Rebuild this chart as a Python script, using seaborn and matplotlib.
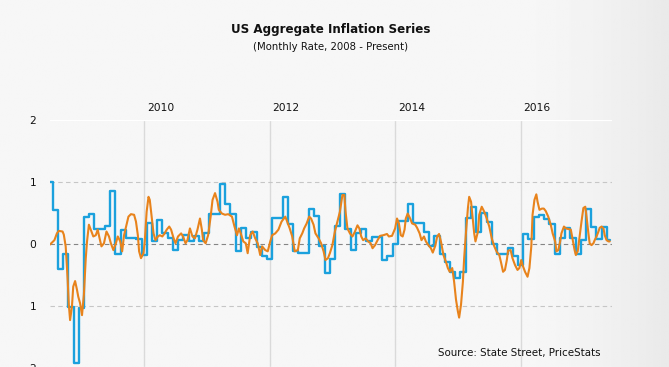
import numpy as np
import pandas as pd
import matplotlib
matplotlib.use("Agg")
import matplotlib.pyplot as plt
import seaborn as sns

# -----------------------------
# DATA
# -----------------------------

# monthly series (blue step line), July 2008 onwards
blue_months = pd.date_range("2008-07-01", periods=108, freq="MS")
blue_rate = [
    1.00, 0.54, -0.41, -0.16, -1.02, -1.92, -1.03, 0.44, 0.48, 0.24,
    0.24, 0.29, 0.85, -0.16, 0.22, 0.10, 0.09, 0.08, -0.18, 0.34,
    0.04, 0.39, 0.18, 0.10, -0.10, 0.07, 0.15, 0.05, 0.13, 0.05,
    0.18, 0.49, 0.49, 0.97, 0.65, 0.48, -0.12, 0.26, 0.10, 0.20,
    -0.05, -0.20, -0.24, 0.42, 0.42, 0.75, 0.32, -0.12, -0.15, -0.15,
    0.56, 0.45, -0.04, -0.47, -0.25, 0.29, 0.81, 0.24, -0.10, 0.17,
    0.24, 0.04, 0.11, 0.11, -0.26, -0.20, 0.00, 0.37, 0.37, 0.64,
    0.34, 0.33, 0.20, -0.03, 0.12, -0.16, -0.30, -0.45, -0.55, -0.45,
    0.42, 0.60, 0.20, 0.50, 0.35, 0.00, -0.16, -0.16, -0.06, -0.20,
    -0.34, 0.16, 0.08, 0.43, 0.47, 0.41, 0.32, -0.17, 0.09, 0.25,
    0.10, -0.17, 0.06, 0.57, 0.28, 0.08, 0.28, 0.06,
]

# daily index (orange line), sampled at its turning points, in decimal years
orange_year = [
    2008.50, 2008.57, 2008.61, 2008.64, 2008.70, 2008.72, 2008.75, 2008.78, 2008.80, 2008.82,
    2008.85, 2008.87, 2008.90, 2008.93, 2008.95, 2008.98, 2009.01, 2009.04, 2009.07, 2009.09,
    2009.12, 2009.15, 2009.19, 2009.23, 2009.26, 2009.29, 2009.32, 2009.36, 2009.40, 2009.44,
    2009.47, 2009.51, 2009.55, 2009.58, 2009.62, 2009.65, 2009.68, 2009.72, 2009.75, 2009.79,
    2009.84, 2009.87, 2009.90, 2009.92, 2009.95, 2009.99, 2010.01, 2010.04, 2010.07, 2010.09,
    2010.12, 2010.15, 2010.18, 2010.22, 2010.25, 2010.29, 2010.32, 2010.36, 2010.40, 2010.43,
    2010.47, 2010.50, 2010.54, 2010.59, 2010.62, 2010.66, 2010.69, 2010.73, 2010.77, 2010.81,
    2010.85, 2010.89, 2010.92, 2010.94, 2010.98, 2011.02, 2011.06, 2011.09, 2011.13, 2011.17,
    2011.19, 2011.24, 2011.29, 2011.34, 2011.40, 2011.44, 2011.48, 2011.51, 2011.54, 2011.58,
    2011.62, 2011.65, 2011.69, 2011.73, 2011.77, 2011.81, 2011.85, 2011.88, 2011.93, 2011.97,
    2012.01, 2012.04, 2012.09, 2012.14, 2012.19, 2012.25, 2012.29, 2012.32, 2012.36, 2012.40,
    2012.45, 2012.48, 2012.52, 2012.55, 2012.59, 2012.63, 2012.66, 2012.70, 2012.73, 2012.78,
    2012.82, 2012.86, 2012.89, 2012.93, 2012.96, 2013.00, 2013.04, 2013.08, 2013.12, 2013.16,
    2013.19, 2013.21, 2013.24, 2013.28, 2013.32, 2013.36, 2013.40, 2013.43, 2013.46, 2013.49,
    2013.53, 2013.57, 2013.61, 2013.64, 2013.68, 2013.72, 2013.76, 2013.81, 2013.87, 2013.90,
    2013.95, 2014.00, 2014.03, 2014.06, 2014.09, 2014.12, 2014.15, 2014.17, 2014.20, 2014.24,
    2014.27, 2014.32, 2014.35, 2014.39, 2014.42, 2014.46, 2014.49, 2014.53, 2014.57, 2014.60,
    2014.64, 2014.67, 2014.70, 2014.73, 2014.77, 2014.81, 2014.84, 2014.87, 2014.91, 2014.94,
    2014.97, 2015.00, 2015.02, 2015.05, 2015.08, 2015.10, 2015.13, 2015.16, 2015.18, 2015.21,
    2015.23, 2015.26, 2015.28, 2015.32, 2015.34, 2015.38, 2015.42, 2015.46, 2015.50, 2015.54,
    2015.58, 2015.62, 2015.66, 2015.69, 2015.72, 2015.75, 2015.78, 2015.80, 2015.84, 2015.87,
    2015.91, 2015.95, 2015.98, 2016.01, 2016.03, 2016.07, 2016.11, 2016.14, 2016.17, 2016.19,
    2016.22, 2016.25, 2016.27, 2016.30, 2016.34, 2016.37, 2016.40, 2016.44, 2016.48, 2016.51,
    2016.55, 2016.57, 2016.60, 2016.63, 2016.65, 2016.69, 2016.72, 2016.76, 2016.80, 2016.83,
    2016.86, 2016.88, 2016.91, 2016.93, 2016.97, 2017.00, 2017.03, 2017.05, 2017.08, 2017.10,
    2017.13, 2017.16, 2017.18, 2017.21, 2017.24, 2017.26, 2017.29, 2017.32, 2017.34, 2017.37,
    2017.40, 2017.42,
]
orange_rate = [
    -0.01, 0.06, 0.17, 0.21, 0.20, 0.15, -0.04, -0.55, -0.98, -1.23,
    -1.01, -0.69, -0.60, -0.74, -0.85, -0.96, -1.15, -0.82, -0.23, 0.04,
    0.31, 0.23, 0.12, 0.14, 0.23, 0.09, -0.04, 0.01, 0.20, 0.12,
    0.01, -0.10, 0.01, 0.12, 0.04, -0.12, 0.14, 0.31, 0.44, 0.48,
    0.47, 0.36, 0.14, -0.12, -0.23, -0.15, 0.04, 0.52, 0.76, 0.71,
    0.44, 0.17, 0.06, 0.12, 0.14, 0.12, 0.16, 0.23, 0.28, 0.23,
    0.09, 0.01, 0.12, 0.17, 0.12, 0.01, 0.06, 0.25, 0.12, 0.09,
    0.23, 0.41, 0.23, 0.06, 0.01, 0.14, 0.44, 0.71, 0.82, 0.68,
    0.55, 0.49, 0.47, 0.48, 0.44, 0.28, 0.14, 0.25, 0.17, 0.04,
    0.01, -0.15, 0.14, 0.20, 0.09, 0.01, -0.18, -0.04, -0.10, -0.12,
    0.04, 0.14, 0.17, 0.23, 0.36, 0.44, 0.33, 0.25, 0.12, -0.12,
    -0.10, 0.09, 0.17, 0.25, 0.33, 0.44, 0.41, 0.31, 0.17, 0.09,
    0.01, -0.12, -0.26, -0.23, -0.15, -0.02, 0.20, 0.36, 0.52, 0.79,
    0.79, 0.52, 0.25, 0.17, 0.12, 0.20, 0.30, 0.25, 0.12, 0.06,
    0.09, 0.04, 0.01, -0.07, -0.02, 0.06, 0.13, 0.14, 0.16, 0.12,
    0.13, 0.25, 0.41, 0.33, 0.14, 0.12, 0.23, 0.41, 0.49, 0.41,
    0.33, 0.31, 0.26, 0.17, 0.06, 0.12, 0.04, -0.02, -0.07, -0.14,
    -0.03, 0.12, 0.16, 0.04, -0.18, -0.29, -0.39, -0.45, -0.39, -0.61,
    -0.90, -1.09, -1.19, -0.98, -0.61, -0.23, 0.20, 0.58, 0.76, 0.68,
    0.47, 0.17, 0.04, 0.20, 0.47, 0.60, 0.52, 0.41, 0.28, 0.09,
    -0.04, -0.13, -0.18, -0.31, -0.45, -0.42, -0.26, -0.11, -0.10, -0.23,
    -0.34, -0.42, -0.39, -0.26, -0.34, -0.45, -0.53, -0.39, -0.04, 0.47,
    0.71, 0.80, 0.68, 0.55, 0.57, 0.57, 0.53, 0.44, 0.31, 0.17,
    0.04, -0.12, -0.10, 0.04, 0.17, 0.28, 0.25, 0.24, 0.23, 0.06,
    -0.10, -0.18, -0.12, 0.04, 0.36, 0.58, 0.60, 0.44, 0.17, 0.01,
    -0.02, 0.01, 0.06, 0.12, 0.20, 0.26, 0.28, 0.25, 0.14, 0.06,
    0.04, 0.04,
]

year_ticks = [2010, 2012, 2014, 2016]
rate_ticks = [-2, -1, 0, 1, 2]
rate_tick_labels = ["2", "1", "0", "1", "2"]

title = "US Aggregate Inflation Series"
subtitle = "(Monthly Rate, 2008 - Present)"
source = "Source: State Street, PriceStats"

BLUE = "#1ba1dd"
ORANGE = "#e8831c"

# -----------------------------
# FIGURE
# -----------------------------

sns.set_style("white")
plt.rcParams["font.family"] = ["DejaVu Sans"]

W, H = 669, 367
fig = plt.figure(figsize=(W / 100, H / 100), dpi=100)
fig.patch.set_facecolor("#f6f6f6")

# soft grey shading towards the right edge
bg = fig.add_axes([0, 0, 1, 1], zorder=-10)
g = np.linspace(0, 1, 400)
shade = 0.965 - 0.05 * np.clip((g - 0.80) / 0.20, 0, 1) ** 1.4
bg.imshow(np.tile(shade, (10, 1)), cmap="gray", vmin=0, vmax=1,
          aspect="auto", extent=[0, 1, 0, 1])
bg.axis("off")

ax = fig.add_axes([50 / W, -7 / H, 562 / W, 254 / H])
ax.patch.set_alpha(0)

blue_df = pd.DataFrame({
    "year": blue_months.year + (blue_months.month - 1) / 12,
    "rate": blue_rate,
})
orange_df = pd.DataFrame({"year": orange_year, "rate": orange_rate})

sns.lineplot(data=blue_df, x="year", y="rate", ax=ax, color=BLUE,
             lw=1.7, drawstyle="steps-mid", zorder=3)
sns.lineplot(data=orange_df, x="year", y="rate", ax=ax, color=ORANGE,
             lw=1.5, zorder=4, solid_joinstyle="round")

# grid
for yr in year_ticks:
    ax.axvline(yr, color="#dadada", lw=1, zorder=1)
ax.axhline(2, color="white", lw=1.6, zorder=1)
ax.axhline(-2, color="white", lw=1.6, zorder=1)
for v in (1, -1):
    ax.axhline(v, color="#c6c6c6", lw=0.8, ls=(0, (4, 3)), zorder=1)
ax.axhline(0, color="#858585", lw=0.8, ls=(0, (4, 3)), zorder=2)

ax.set_xlim(2008.5, 2017.456)
ax.set_ylim(-2.1, 2)
ax.set_xticks(year_ticks)
ax.set_xticklabels([])
ax.set_yticks(rate_ticks)
ax.set_yticklabels(rate_tick_labels)
ax.tick_params(axis="both", length=0, labelsize=7.7, colors="#111111")
ax.tick_params(axis="y", pad=10)
ax.set_xlabel("")
ax.set_ylabel("")
sns.despine(ax=ax, left=True, bottom=True, top=True, right=True)

for yr in year_ticks:
    ax.annotate(str(yr), xy=(yr, 1), xycoords=("data", "axes fraction"),
                xytext=(2, 5), textcoords="offset points",
                ha="left", va="bottom", fontsize=7.7, color="#111111")

fig.text(330.5 / W, 1 - 29 / H, title, ha="center", va="center",
         fontsize=8.6, fontweight="bold", color="#111111")
fig.text(330.5 / W, 1 - 46.5 / H, subtitle, ha="center", va="center",
         fontsize=7.25, color="#111111")
fig.text(437.5 / W, 1 - 353 / H, source, ha="left", va="center",
         fontsize=7.35, color="#111111")

fig.savefig("out.png", dpi=100, facecolor=fig.get_facecolor())
